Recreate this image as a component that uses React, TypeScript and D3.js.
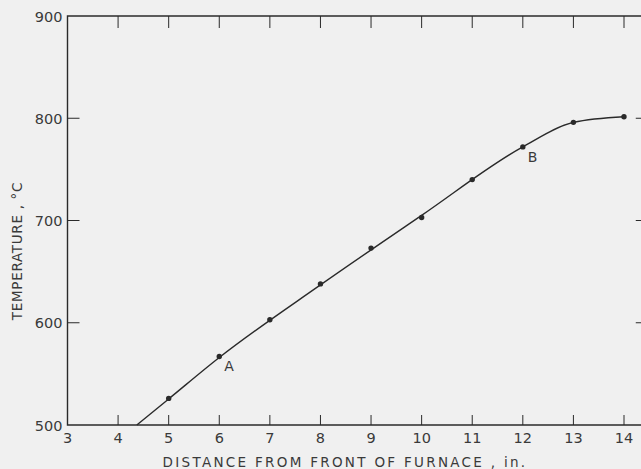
import React, { useRef, useEffect } from "react";
import * as d3 from "d3";

const W = 641;
const H = 469;

// measured points
const distance = [5, 6, 7, 8, 9, 10, 11, 12, 13, 14];
const temperature = [526, 567, 603, 638, 673, 703, 740, 772, 796, 801.5];

// the drawn smooth curve
const curveX = [4.37, 5, 6, 8, 10, 12, 13, 14];
const curveY = [500, 525.5, 566, 637, 705, 772, 796, 801.5];

const xTicks = [3, 4, 5, 6, 7, 8, 9, 10, 11, 12, 13, 14];
const yTicks = [500, 600, 700, 800, 900];

const labels = [
  { text: "A", x: 6, y: 567 },
  { text: "B", x: 12, y: 772 },
];

const App = () => {
  const svgRef = useRef<SVGSVGElement>(null);

  useEffect(() => {
    const svg = d3.select(svgRef.current);
    svg.selectAll("*").remove();

    const x = d3.scaleLinear().domain([3, 14]).range([67.5, 624]);
    const y = d3.scaleLinear().domain([500, 900]).range([425, 16]);
    const ink = "#2a2a2a";
    const txt = "#3a3a3a";
    const font = "'DejaVu Sans', sans-serif";
    const x0 = x(3), x1 = x(14.47), y0 = y(500), y1 = y(900);

    svg.append("rect").attr("width", W).attr("height", H).attr("fill", "#f0f0f0");

    // frame
    svg.append("path")
      .attr("d", `M${x0},${y1}H${x1}V${y0}H${x0}Z`)
      .attr("fill", "none").attr("stroke", ink).attr("stroke-width", 1.4);

    const g = svg.append("g").attr("stroke", ink).attr("stroke-width", 1);
    xTicks.slice(1).forEach(t => {
      g.append("line").attr("x1", x(t)).attr("x2", x(t)).attr("y1", y0).attr("y2", y0 - 10);
      g.append("line").attr("x1", x(t)).attr("x2", x(t)).attr("y1", y1).attr("y2", y1 + 12);
    });
    yTicks.slice(1, -1).forEach(t => {
      g.append("line").attr("x1", x0).attr("x2", x0 + 12).attr("y1", y(t)).attr("y2", y(t));
      g.append("line").attr("x1", x1).attr("x2", x1 - 12).attr("y1", y(t)).attr("y2", y(t));
    });

    svg.append("g").selectAll("text").data(xTicks).enter().append("text")
      .attr("x", d => x(d)).attr("y", y0 + 18)
      .attr("text-anchor", "middle")
      .attr("font-family", font).attr("font-size", 14.5).attr("fill", txt)
      .text(d => d);

    svg.append("g").selectAll("text").data(yTicks).enter().append("text")
      .attr("x", x0 - 5).attr("y", d => y(d) + 5.5)
      .attr("text-anchor", "end")
      .attr("font-family", font).attr("font-size", 14.5).attr("fill", txt)
      .text(d => d);

    svg.append("text")
      .attr("x", 345).attr("y", 467)
      .attr("text-anchor", "middle")
      .attr("font-family", font).attr("font-size", 13.5).attr("letter-spacing", 2.3)
      .attr("fill", txt)
      .text("DISTANCE  FROM  FRONT  OF  FURNACE , in.");

    svg.append("text")
      .attr("transform", `translate(22, 251) rotate(-90)`)
      .attr("text-anchor", "middle")
      .attr("font-family", font).attr("font-size", 13.5).attr("letter-spacing", 0.7)
      .attr("fill", txt)
      .text("TEMPERATURE , °C");

    const line = d3.line<number>()
      .x(i => x(curveX[i]))
      .y(i => y(curveY[i]))
      .curve(d3.curveMonotoneX);
    svg.append("path")
      .attr("d", line(d3.range(curveX.length)))
      .attr("fill", "none").attr("stroke", ink).attr("stroke-width", 1.4);

    svg.append("g").selectAll("circle").data(distance).enter().append("circle")
      .attr("cx", d => x(d)).attr("cy", (d, i) => y(temperature[i]))
      .attr("r", 2.7).attr("fill", ink);

    svg.append("g").selectAll("text").data(labels).enter().append("text")
      .attr("x", d => x(d.x) + 5).attr("y", d => y(d.y) + 15)
      .attr("font-family", font).attr("font-size", 14).attr("fill", txt)
      .text(d => d.text);
  }, []);

  return (
    <div style={{ position: "fixed", left: 0, top: 0 }}>
      <svg ref={svgRef} width={W} height={H}></svg>
    </div>
  );
};

export default App;
